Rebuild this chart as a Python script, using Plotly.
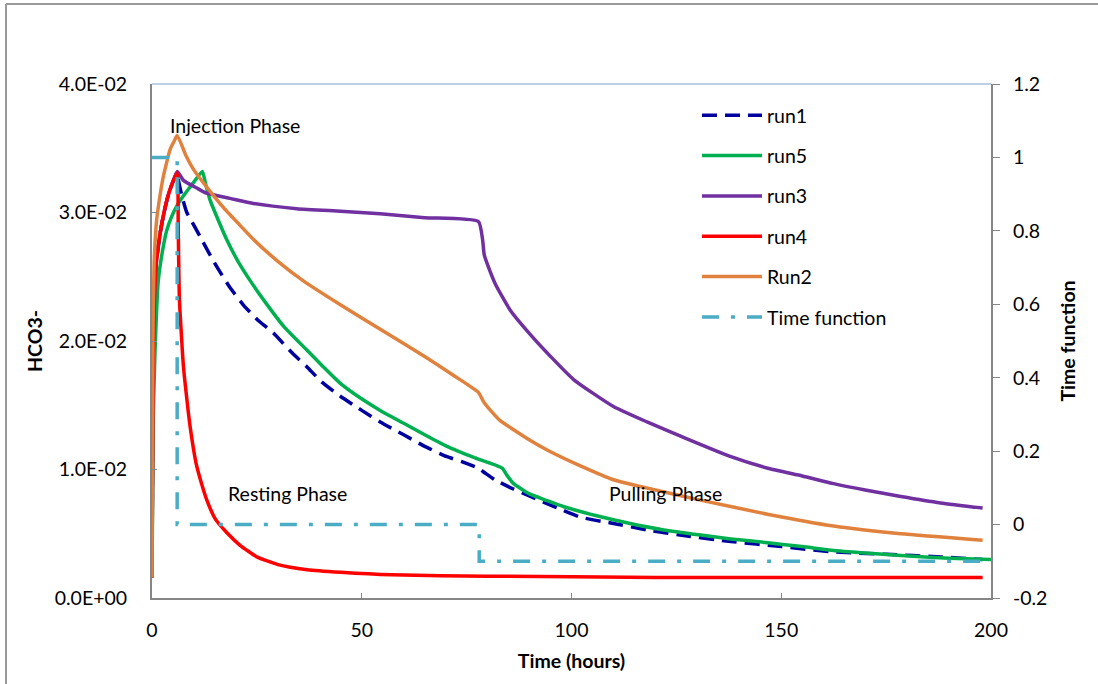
import plotly.graph_objects as go

# ---------------- data ----------------
t_run1 = [0, 0.25, 0.5, 1, 2, 3, 4, 5, 6, 6.3, 7.2, 8.3, 10, 11.5, 13.5, 15.4, 18.5, 21.8, 25, 29, 33, 36.9, 40.5, 44.9,
          50, 54.4, 60, 65, 70.3, 74, 77.8, 79.5, 81.7, 86, 90.2, 96, 102, 110, 118, 128, 138, 150, 162, 175, 188, 198]
v_run1 = [0.0016, 0.018, 0.0225, 0.026, 0.0285, 0.0302, 0.0315, 0.0324, 0.0331, 0.0325, 0.0312, 0.0300, 0.0290, 0.0281,
          0.0269, 0.0258, 0.0242, 0.0228, 0.0217, 0.0206, 0.0192, 0.0180, 0.0168, 0.0157, 0.0146, 0.0137, 0.0127,
          0.0118, 0.0110, 0.0106, 0.0101, 0.0097, 0.0092, 0.0085, 0.0079, 0.0071, 0.0063, 0.0058, 0.0053, 0.0048,
          0.0044, 0.0040, 0.0036, 0.0034, 0.0032, 0.0030]

t_run5 = [0, 0.3, 0.7, 1.5, 2.5, 3.5, 4.7, 5.9, 7.5, 9.1, 10.5, 12, 12.8, 13.8, 15.8, 17.8, 20.5, 23.4, 26.6, 31.5, 36.9,
          40.8, 44.9, 49.5, 54.4, 60, 65, 70.3, 77, 83.5, 84.5, 86.2, 90, 94, 98.2, 106, 114, 122, 130.8, 138, 146.8,
          155, 162.5, 170, 178.5, 190, 200]
v_run5 = [0.0016, 0.014, 0.019, 0.0247, 0.0270, 0.0286, 0.0297, 0.0305, 0.0313, 0.0320, 0.0326, 0.0332, 0.0322,
          0.0310, 0.0294, 0.0279, 0.0262, 0.0247, 0.0232, 0.0211, 0.0193, 0.0180, 0.0167, 0.0156, 0.0146, 0.0136,
          0.0127, 0.0118, 0.0109, 0.0101, 0.0096, 0.0089, 0.0081, 0.0076, 0.0071, 0.0064, 0.0058, 0.0053, 0.0049,
          0.0046, 0.0043, 0.0040, 0.0037, 0.0035, 0.0033, 0.0031, 0.0030]

t_run3 = [0, 0.25, 0.5, 1, 2, 3, 4, 5, 6, 7.5, 10.7, 13, 18.6, 24.2, 34.5, 45, 54.4, 65, 77.8, 78.8, 79.2, 80.5, 81.9,
          85.4, 90.2, 95, 100.5, 110, 118, 126, 138, 146.8, 155, 162.5, 170, 178.5, 188, 198]
v_run3 = [0.0016, 0.018, 0.0225, 0.026, 0.0285, 0.0302, 0.0315, 0.0324, 0.0332, 0.0325, 0.0319, 0.0315, 0.0311,
          0.0307, 0.0303, 0.0301, 0.0299, 0.0296, 0.0293, 0.0279, 0.0267, 0.0255, 0.0244, 0.0224, 0.0205, 0.0188,
          0.0170, 0.0149, 0.0137, 0.0126, 0.0110, 0.0101, 0.0095, 0.0089, 0.0084, 0.0079, 0.0074, 0.0070]

t_run4 = [0, 0.25, 0.5, 1, 2, 3, 4, 5, 6, 6.25, 6.5, 7, 7.5, 8.3, 9.1, 10.5, 12, 13.1, 15, 17.8, 21, 25, 30, 37, 45, 57,
          80, 120, 160, 198]
v_run4 = [0.0016, 0.018, 0.0225, 0.026, 0.0285, 0.0302, 0.0315, 0.0324, 0.0331, 0.0290, 0.0235, 0.0205, 0.0180,
          0.0155, 0.0133, 0.0105, 0.0087, 0.0076, 0.0062, 0.0051, 0.0041, 0.0032, 0.0026, 0.0022, 0.0020, 0.0018,
          0.0017, 0.0016, 0.0016, 0.0016]

t_run2 = [0, 0.2, 0.5, 1.1, 2, 2.7, 3.5, 4.3, 5.2, 6, 8, 10, 13, 17, 21, 24.2, 30, 36, 45, 55, 65, 72, 77.8, 79, 80.7, 83,
          86.2, 90, 94.3, 102, 110, 120, 131, 147, 162.5, 178.5, 198]
v_run2 = [0.0016, 0.020, 0.026, 0.0294, 0.0315, 0.0328, 0.0339, 0.0349, 0.0355, 0.0360, 0.0345, 0.0333, 0.0320,
          0.0304, 0.0290, 0.0279, 0.0262, 0.0247, 0.0228, 0.0208, 0.0188, 0.0173, 0.0160, 0.0153, 0.0146, 0.0138,
          0.0131, 0.0123, 0.0115, 0.0103, 0.0092, 0.0084, 0.0076, 0.0065, 0.0056, 0.0050, 0.0045]

t_tf = [0, 6, 6, 78, 78, 199]
v_tf = [1, 1, 0, 0, -0.1, -0.1]

left_tickvals = [0, 0.01, 0.02, 0.03, 0.04]
left_ticktext = ["0.0E+00", "1.0E-02", "2.0E-02", "3.0E-02", "4.0E-02"]
right_tickvals = [-0.2, 0, 0.2, 0.4, 0.6, 0.8, 1, 1.2]
right_ticktext = ["-0.2", "0", "0.2", "0.4", "0.6", "0.8", "1", "1.2"]
x_tickvals = [0, 50, 100, 150, 200]

FONT = "Lato"
FS = 19.5
AXIS_GRAY = "#868686"

fig = go.Figure()

series = [
    ("run1", t_run1, v_run1, "#0000A0", "15px,8px", 3.5),
    ("run5", t_run5, v_run5, "#00B050", "solid", 3.5),
    ("run3", t_run3, v_run3, "#7030A0", "solid", 3.5),
    ("run4", t_run4, v_run4, "#FF0000", "solid", 3.5),
    ("Run2", t_run2, v_run2, "#E0823D", "solid", 3.5),
]
for i, (name, tx, vy, col, dash, w) in enumerate(series):
    fig.add_trace(go.Scatter(x=tx, y=vy, mode="lines", name=name, legendgroup=f"g{i}",
                             line=dict(color=col, width=w, dash=dash, shape="spline", smoothing=0.5),
                             yaxis="y"))

fig.add_trace(go.Scatter(x=t_tf, y=v_tf, mode="lines", name="Time function", legendgroup="g9",
                         line=dict(color="#4BACC6", width=3.5, dash="17px,12px,4px,12px"), yaxis="y2"))

fig.add_annotation(x=3.8, y=0.0368, xref="x", yref="y", text="Injection Phase", showarrow=False,
                   xanchor="left", yanchor="middle", font=dict(family=FONT, size=FS, color="#000"))
fig.add_annotation(x=17.7, y=0.00817, xref="x", yref="y", text="Resting Phase", showarrow=False,
                   xanchor="left", yanchor="middle", font=dict(family=FONT, size=FS, color="#000"))
fig.add_annotation(x=108.4, y=0.0081, xref="x", yref="y", text="Pulling Phase", showarrow=False,
                   xanchor="left", yanchor="middle", font=dict(family=FONT, size=FS, color="#000"))

# chart-area frame (left and top edges visible) and top border of plot area
fig.add_shape(type="line", xref="paper", yref="paper", x0=(6 - 152) / 839, x1=(6 - 152) / 839,
              y0=(598 - 4) / 514, y1=(598 - 690) / 514, line=dict(color="#9A9A9A", width=2))
fig.add_shape(type="line", xref="paper", yref="paper", x0=(6 - 152) / 839, x1=(1100 - 152) / 839,
              y0=(598 - 4) / 514, y1=(598 - 4) / 514, line=dict(color="#9A9A9A", width=2))
fig.add_shape(type="line", xref="paper", yref="paper", x0=0, x1=1, y0=1, y1=1,
              line=dict(color="#A7C0DE", width=1.5))

fig.update_layout(
    width=1098, height=684,
    margin=dict(l=152, r=107, t=84, b=86, pad=0),
    paper_bgcolor="white", plot_bgcolor="white",
    font=dict(family=FONT, size=FS, color="#000"),
    xaxis=dict(range=[0, 200], tickvals=x_tickvals, ticks="inside", ticklen=5, tickcolor=AXIS_GRAY,
               showline=True, linecolor=AXIS_GRAY, linewidth=2, showgrid=False, zeroline=False,
               ticklabelstandoff=14, tickfont=dict(family=FONT, size=FS, color="#000"),
               title=dict(text="<b>Time (hours)</b>", standoff=14,
                          font=dict(family=FONT, size=FS, color="#000"))),
    yaxis=dict(range=[0, 0.04], tickvals=left_tickvals, ticktext=left_ticktext, ticks="inside", ticklen=5,
               tickcolor=AXIS_GRAY, showline=True, linecolor=AXIS_GRAY, linewidth=2, showgrid=False,
               zeroline=False, ticklabelstandoff=19, tickfont=dict(family=FONT, size=FS, color="#000"),
               title=dict(text="<b>HCO3-</b>", standoff=7, font=dict(family=FONT, size=FS, color="#000"))),
    yaxis2=dict(range=[-0.2, 1.2], tickvals=right_tickvals, ticktext=right_ticktext, overlaying="y", side="right",
                ticks="outside", ticklen=7, tickcolor=AXIS_GRAY, showline=True, linecolor=AXIS_GRAY, linewidth=2,
                showgrid=False, zeroline=False, ticklabelstandoff=9,
                tickfont=dict(family=FONT, size=FS, color="#000"),
                title=dict(text="<b>Time function</b>", standoff=15, font=dict(family=FONT, size=FS, color="#000"))),
    legend=dict(x=(697 - 152) / 839, y=(598 - 96) / 514, xanchor="left", yanchor="top",
                bgcolor="rgba(0,0,0,0)", tracegroupgap=12, itemwidth=60,
                font=dict(family=FONT, size=FS, color="#000")),
    showlegend=True,
)

fig.write_html("out.html")
